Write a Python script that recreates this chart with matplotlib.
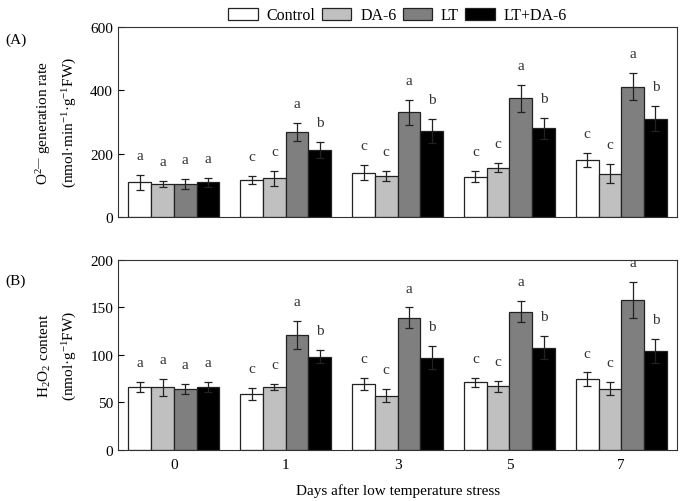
import matplotlib
matplotlib.use("Agg")
import matplotlib.pyplot as plt
import numpy as np

plt.rcParams['font.family'] = ['Liberation Serif', 'DejaVu Serif']
plt.rcParams['mathtext.fontset'] = 'custom'
plt.rcParams['mathtext.rm'] = 'Liberation Serif'
plt.rcParams['mathtext.it'] = 'Liberation Serif:italic'

days = ['0', '1', '3', '5', '7']
treatments = ['Control', 'DA-6', 'LT', 'LT+DA-6']
colors = ['#ffffff', '#c0c0c0', '#7f7f7f', '#000000']

# Panel A: O2- generation rate
o2_mean = {
    'Control': [109, 116, 140, 127, 180],
    'DA-6':    [104, 122, 130, 155, 137],
    'LT':      [104, 268, 331, 375, 412],
    'LT+DA-6': [109, 212, 271, 280, 310],
}
o2_err = {
    'Control': [23, 13, 25, 17, 22],
    'DA-6':    [10, 24, 16, 14, 29],
    'LT':      [17, 28, 39, 43, 43],
    'LT+DA-6': [14, 25, 39, 34, 40],
}
o2_letters = {
    'Control': ['a', 'c', 'c', 'c', 'c'],
    'DA-6':    ['a', 'c', 'c', 'c', 'c'],
    'LT':      ['a', 'a', 'a', 'a', 'a'],
    'LT+DA-6': ['a', 'b', 'b', 'b', 'b'],
}

# Panel B: H2O2 content
h2o2_mean = {
    'Control': [66, 59, 69.5, 71, 74.5],
    'DA-6':    [66, 66, 57, 67, 64.5],
    'LT':      [64, 121, 139, 145.5, 157.5],
    'LT+DA-6': [66, 98, 97, 107.5, 104],
}
h2o2_err = {
    'Control': [5, 6, 6, 5, 7],
    'DA-6':    [9, 3, 7, 6, 7],
    'LT':      [5, 15, 11, 11, 19],
    'LT+DA-6': [5, 7, 12, 12, 13],
}
h2o2_letters = {
    'Control': ['a', 'c', 'c', 'c', 'c'],
    'DA-6':    ['a', 'c', 'c', 'c', 'c'],
    'LT':      ['a', 'a', 'a', 'a', 'a'],
    'LT+DA-6': ['a', 'b', 'b', 'b', 'b'],
}

fig = plt.figure(figsize=(6.82, 5.02), dpi=100)
axA = fig.add_axes([0.173, 0.566, 0.820, 0.378])
axB = fig.add_axes([0.173, 0.102, 0.820, 0.378])

x = np.arange(len(days))
w = 0.203
offsets = (np.arange(4) - 1.5) * w
fs = 11

def draw(ax, means, errs, letters, ymax, step):
    handles = []
    for i, t in enumerate(treatments):
        b = ax.bar(x + offsets[i], means[t], w, color=colors[i],
                   edgecolor='#222222', linewidth=0.9, label=t, zorder=2)
        handles.append(b)
        ax.errorbar(x + offsets[i], means[t], yerr=errs[t], fmt='none',
                    ecolor='#222222', elinewidth=0.9, capsize=3.2,
                    capthick=0.9, zorder=3)
        for j in range(len(days)):
            ax.annotate(letters[t][j], (x[j] + offsets[i], means[t][j] + errs[t][j]),
                        xytext=(0, 14), textcoords='offset points',
                        ha='center', va='center', fontsize=fs, color='#333333')
    ax.set_xlim(-0.5, len(days) - 0.5)
    ax.set_ylim(0, ymax)
    ax.set_yticks(np.arange(0, ymax + 1, step))
    ax.tick_params(axis='y', direction='in', length=4, labelsize=fs, width=0.8)
    ax.tick_params(axis='x', length=0, labelsize=fs)
    for s in ax.spines.values():
        s.set_linewidth(0.8)
        s.set_color('#333333')
    return handles

hA = draw(axA, o2_mean, o2_err, o2_letters, 600, 200)
draw(axB, h2o2_mean, h2o2_err, h2o2_letters, 200, 50)

axA.set_xticks(x)
axA.set_xticklabels([])
axB.set_xticks(x)
axB.set_xticklabels(days)
axB.tick_params(axis='x', pad=6)
axB.set_xlabel('Days after low temperature stress', fontsize=fs, labelpad=9)

axA.set_ylabel('O$^{2—}$ generation rate\n(nmol·min$^{-1}$·g$^{-1}$FW)',
               fontsize=fs, linespacing=1.6, labelpad=8)
axB.set_ylabel('H$_2$O$_2$ content\n(nmol·g$^{-1}$FW)',
               fontsize=fs, linespacing=1.6, labelpad=8)

fig.text(0.008, 0.92, '(A)', fontsize=fs, ha='left', va='center')
fig.text(0.008, 0.44, '(B)', fontsize=fs, ha='left', va='center')

fig.legend(hA, treatments, loc='upper center', bbox_to_anchor=(0.583, 1.012),
           ncol=4, frameon=False, fontsize=11.5, handlelength=1.85,
           handleheight=0.8, handletextpad=0.55, columnspacing=0.4)

fig.savefig('out.png', dpi=100)
